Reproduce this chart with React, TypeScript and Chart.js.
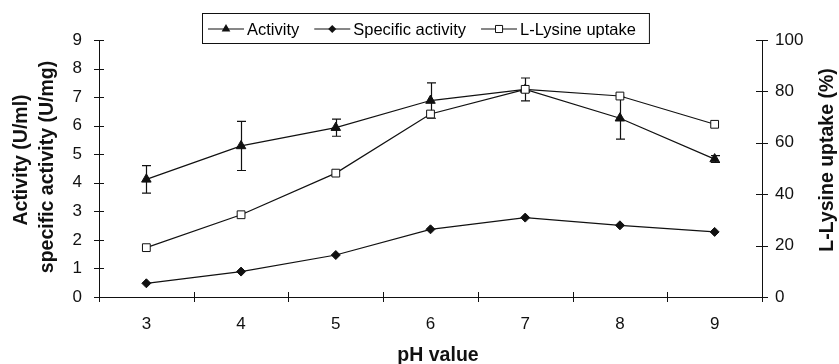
import React, { useEffect, useRef } from 'react';
import { Chart, registerables } from 'chart.js';

Chart.register(...registerables);

// ---- Data ----
const phLabels = ['3', '4', '5', '6', '7', '8', '9'];
const activity = [4.12, 5.29, 5.93, 6.88, 7.27, 6.26, 4.83];
const activityError = [0.48, 0.86, 0.3, 0.62, 0.4, 0.73, 0.12];
const specificActivity = [0.48, 0.89, 1.47, 2.37, 2.78, 2.51, 2.28];
const lysineUptake = [19.2, 32.0, 48.2, 71.2, 80.8, 78.2, 67.2];

const legendLabels = ['Activity', 'Specific activity', 'L-Lysine uptake'];
const leftTitle = ['Activity (U/ml)', 'specific activity (U/mg)'];
const rightTitle = 'L-Lysine uptake (%)';
const xTitle = 'pH value';

const FONT = '"Liberation Sans", Arial, Helvetica, sans-serif';
const INK = '#111';

function drawMarker(ctx: CanvasRenderingContext2D, style: string, x: number, y: number, r: number) {
  ctx.save();
  ctx.beginPath();
  ctx.lineWidth = 1;
  ctx.strokeStyle = INK;
  if (style === 'triangle') {
    ctx.moveTo(x, y - r);
    ctx.lineTo(x + r * 0.866, y + r * 0.5);
    ctx.lineTo(x - r * 0.866, y + r * 0.5);
    ctx.closePath();
    ctx.fillStyle = INK;
    ctx.fill();
  } else if (style === 'rectRot') {
    ctx.moveTo(x - r, y);
    ctx.lineTo(x, y - r);
    ctx.lineTo(x + r, y);
    ctx.lineTo(x, y + r);
    ctx.closePath();
    ctx.fillStyle = INK;
    ctx.fill();
  } else {
    const s = r * 0.707;
    ctx.rect(x - s, y - s, 2 * s, 2 * s);
    ctx.fillStyle = '#fff';
    ctx.fill();
    ctx.stroke();
  }
  ctx.restore();
}

const errorBarPlugin = {
  id: 'errorBars',
  beforeDatasetsDraw(chart: any) {
    const ctx = chart.ctx;
    const meta = chart.getDatasetMeta(0);
    const y = chart.scales.y;
    ctx.save();
    ctx.strokeStyle = INK;
    ctx.lineWidth = 1.2;
    meta.data.forEach((pt: any, i: number) => {
      const x = Math.round(pt.x) + 0.5;
      const top = y.getPixelForValue(activity[i] + activityError[i]);
      const bot = y.getPixelForValue(activity[i] - activityError[i]);
      ctx.beginPath();
      ctx.moveTo(x, top);
      ctx.lineTo(x, bot);
      ctx.moveTo(x - 4.5, top);
      ctx.lineTo(x + 4.5, top);
      ctx.moveTo(x - 4.5, bot);
      ctx.lineTo(x + 4.5, bot);
      ctx.stroke();
    });
    ctx.restore();
  },
};

const decorPlugin = {
  id: 'decor',
  afterDraw(chart: any) {
    const ctx = chart.ctx;
    const { left, right, bottom } = chart.chartArea;
    const yL = chart.scales.y;
    const yR = chart.scales.y2;
    const xS = chart.scales.x;
    ctx.save();
    ctx.strokeStyle = INK;
    ctx.lineWidth = 1;
    ctx.beginPath();
    // left axis tick marks (crossing)
    yL.ticks.forEach((t: any) => {
      const py = Math.round(yL.getPixelForValue(t.value)) + 0.5;
      ctx.moveTo(left - 5, py);
      ctx.lineTo(left + 5, py);
    });
    // right axis tick marks
    yR.ticks.forEach((t: any) => {
      const py = Math.round(yR.getPixelForValue(t.value)) + 0.5;
      ctx.moveTo(right - 6, py);
      ctx.lineTo(right + 6, py);
    });
    // x axis tick marks between categories
    const w = xS.getPixelForValue(1) - xS.getPixelForValue(0);
    for (let k = 0; k <= phLabels.length; k++) {
      const px = Math.round(xS.getPixelForValue(0) - w / 2 + k * w) + 0.5;
      ctx.moveTo(px, bottom - 5);
      ctx.lineTo(px, bottom + 5);
    }
    ctx.stroke();

    // axis titles
    ctx.fillStyle = INK;
    ctx.font = `bold 19.5px ${FONT}`;
    ctx.textAlign = 'center';
    ctx.textBaseline = 'alphabetic';
    const vTitle = (text: string, bx: number, cy: number) => {
      ctx.save();
      ctx.translate(bx, cy);
      ctx.rotate(-Math.PI / 2);
      ctx.fillText(text, 0, 0);
      ctx.restore();
    };
    vTitle(leftTitle[0], 26.5, 160);
    vTitle(leftTitle[1], 53, 167);
    vTitle(rightTitle, 833, 160);
    ctx.fillText(xTitle, 438, 361);

    // legend
    const styles = ['triangle', 'rectRot', 'rect'];
    const radii = [5, 4, 5];
    ctx.font = `16.5px ${FONT}`;
    ctx.textAlign = 'left';
    ctx.textBaseline = 'middle';
    const ly = 29;
    let cx = 208;
    const boxLeft = 202;
    legendLabels.forEach((label, i) => {
      ctx.beginPath();
      ctx.lineWidth = 1.2;
      ctx.moveTo(cx, ly);
      ctx.lineTo(cx + 36, ly);
      ctx.stroke();
      drawMarker(ctx, styles[i], cx + 18, ly, radii[i]);
      ctx.fillStyle = '#000';
      ctx.fillText(label, cx + 39, ly + 1);
      cx = cx + 39 + ctx.measureText(label).width + 15;
    });
    const boxRight = cx - 15 + 13;
    ctx.lineWidth = 1;
    ctx.strokeRect(boxLeft + 0.5, 13.5, boxRight - boxLeft, 30);
    ctx.restore();
  },
};

export default function App() {
  const ref = useRef<HTMLCanvasElement | null>(null);
  useEffect(() => {
    if (!ref.current) return;
    const lineCommon = {
      borderColor: INK,
      borderWidth: 1.2,
      pointBorderColor: INK,
      pointBorderWidth: 1,
      tension: 0,
      fill: false,
    };
    const chart = new Chart(ref.current, {
      type: 'line',
      data: {
        labels: phLabels,
        datasets: [
          {
            ...lineCommon,
            label: legendLabels[0],
            data: activity,
            yAxisID: 'y',
            pointStyle: 'triangle',
            pointRadius: 5.5,
            pointBackgroundColor: INK,
            order: 1,
          },
          {
            ...lineCommon,
            label: legendLabels[1],
            data: specificActivity,
            yAxisID: 'y',
            pointStyle: 'rectRot',
            pointRadius: 4.5,
            pointBackgroundColor: INK,
            order: 2,
          },
          {
            ...lineCommon,
            label: legendLabels[2],
            data: lysineUptake,
            yAxisID: 'y2',
            pointStyle: 'rect',
            pointRadius: 5.5,
            pointBackgroundColor: '#fff',
            order: 0,
          },
        ],
      },
      options: {
        responsive: false,
        animation: false,
        layout: { padding: { top: 40, left: 0, right: 0, bottom: 0 } },
        plugins: {
          legend: { display: false },
          tooltip: { enabled: false },
          title: { display: false },
        },
        scales: {
          x: {
            type: 'category',
            offset: true,
            grid: { display: true, drawOnChartArea: false, drawTicks: false, offset: true },
            border: { display: true, color: INK, width: 1 },
            ticks: { color: INK, font: { family: FONT, size: 17 }, padding: 17.6, maxRotation: 0 },
            afterFit: (s: any) => { s.height = 67; },
          },
          y: {
            type: 'linear',
            position: 'left',
            min: 0,
            max: 9,
            ticks: { stepSize: 1, color: INK, font: { family: FONT, size: 17 }, padding: 17 },
            grid: { display: true, drawOnChartArea: false, drawTicks: false },
            border: { display: true, color: INK, width: 1 },
            afterFit: (s: any) => { s.width = 99; },
          },
          y2: {
            type: 'linear',
            position: 'right',
            min: 0,
            max: 100,
            ticks: { stepSize: 20, color: INK, font: { family: FONT, size: 17 }, padding: 13 },
            grid: { display: true, drawOnChartArea: false, drawTicks: false },
            border: { display: true, color: INK, width: 1 },
            afterFit: (s: any) => { s.width = 77; },
          },
        },
      },
      plugins: [errorBarPlugin, decorPlugin],
    } as any);
    return () => chart.destroy();
  }, []);
  return (
    <div style={{ position: 'absolute', left: 0, top: 0, width: 839, height: 364, background: '#fff' }}>
      <canvas ref={ref} width={839} height={364} style={{ display: 'block' }} />
    </div>
  );
}
